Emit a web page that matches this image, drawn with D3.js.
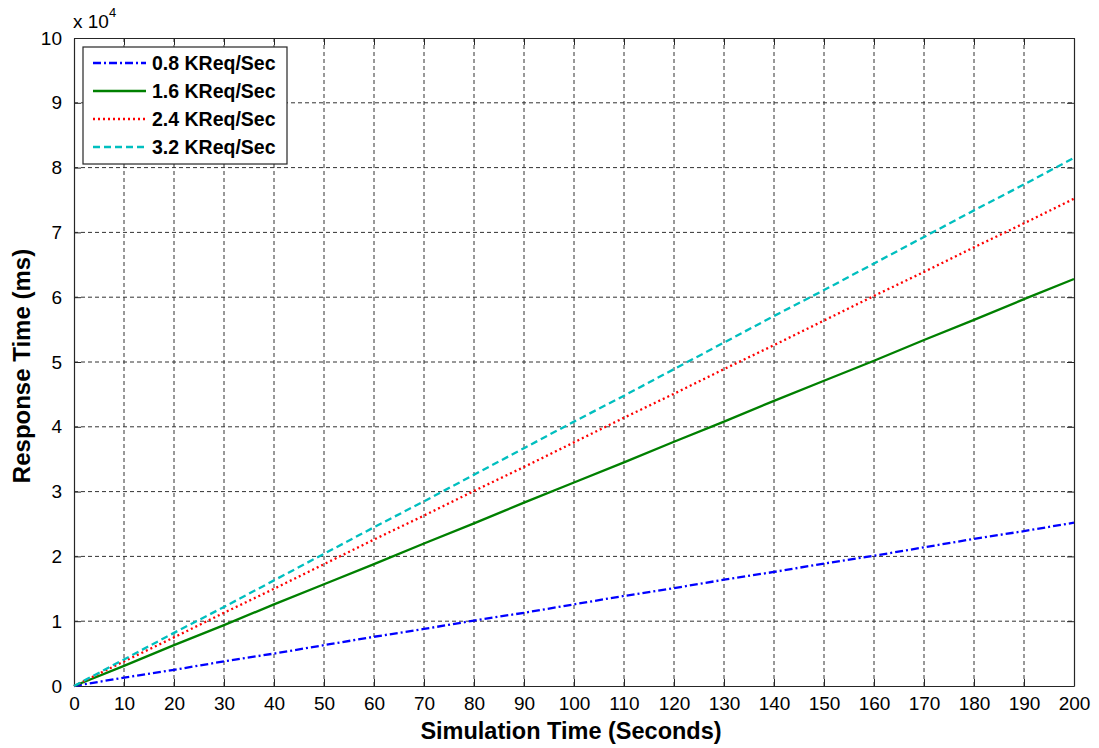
<!DOCTYPE html>
<html>
<head>
<meta charset="utf-8">
<script src="https://cdn.jsdelivr.net/npm/d3@7"></script>
<style>
  body { margin: 0; background: #fff; }
  text { font-family: "Liberation Sans", Arial, sans-serif; }
</style>
</head>
<body>
<div id="chart"></div>
<script>
// data (response time in units of 10^4 ms)
var times = [0,10,20,30,40,50,60,70,80,90,100,110,120,130,140,150,160,170,180,190,200];
var seriesNames = ["0.8 KReq/Sec", "1.6 KReq/Sec", "2.4 KReq/Sec", "3.2 KReq/Sec"];
var s08 = [0,0.13,0.25,0.38,0.50,0.63,0.76,0.88,1.01,1.13,1.26,1.39,1.51,1.64,1.76,1.89,2.01,2.14,2.27,2.39,2.52];
var s16 = [0,0.31,0.63,0.94,1.26,1.57,1.88,2.20,2.51,2.83,3.14,3.45,3.77,4.08,4.40,4.71,5.02,5.34,5.65,5.97,6.28];
var s24 = [0,0.38,0.75,1.13,1.50,1.88,2.26,2.63,3.01,3.38,3.76,4.14,4.51,4.89,5.26,5.64,6.02,6.39,6.77,7.14,7.52];
var s32 = [0,0.41,0.82,1.22,1.63,2.04,2.45,2.85,3.26,3.67,4.08,4.48,4.89,5.30,5.71,6.11,6.52,6.93,7.34,7.74,8.15];
var xTicks = d3.range(0, 201, 10);
var yTicks = d3.range(0, 11, 1);

var colors = ["#0000ff", "#008000", "#ff0000", "#00bfbf"];
var dashes = ["8,3,2,3", null, "2,3", "7,4"];
var allSeries = [s08, s16, s24, s32];

var margin = {top: 38, right: 25, bottom: 62, left: 74},
    width = 1099 - margin.left - margin.right,
    height = 748 - margin.top - margin.bottom;

var svg = d3.select("#chart")
    .append("svg")
    .attr("width", 1099)
    .attr("height", 748)
    .append("g")
    .attr("transform", "translate(" + margin.left + "," + margin.top + ")");

var x = d3.scaleLinear().domain([0, 200]).range([0, width]);
var y = d3.scaleLinear().domain([0, 10]).range([height, 0]);

// grid
svg.append("g").selectAll("line").data(xTicks.slice(1, -1)).enter().append("line")
    .attr("x1", d => x(d)).attr("x2", d => x(d))
    .attr("y1", 0).attr("y2", height)
    .style("stroke", "#333").style("stroke-dasharray", "4,3").style("stroke-width", 1);
svg.append("g").selectAll("line").data(yTicks.slice(1, -1)).enter().append("line")
    .attr("x1", 0).attr("x2", width)
    .attr("y1", d => y(d)).attr("y2", d => y(d))
    .style("stroke", "#333").style("stroke-dasharray", "4,3").style("stroke-width", 1);

// axes (ticks inward, MATLAB style box)
function styleAxis(g) {
    g.selectAll("path").style("stroke", "#262626").style("stroke-width", 1.2);
    g.selectAll("line").style("stroke", "#262626");
    g.selectAll("text").style("font-size", "19px").style("fill", "#000");
}
svg.append("g").attr("transform", "translate(0," + height + ")")
    .call(d3.axisBottom(x).tickValues(xTicks).tickSizeInner(-7).tickSizeOuter(0).tickPadding(11))
    .call(styleAxis);
svg.append("g")
    .call(d3.axisTop(x).tickValues(xTicks).tickSizeInner(-7).tickSizeOuter(0).tickFormat(""))
    .call(styleAxis);
svg.append("g")
    .call(d3.axisLeft(y).tickValues(yTicks).tickSizeInner(-7).tickSizeOuter(0).tickPadding(12))
    .call(styleAxis);
svg.append("g").attr("transform", "translate(" + width + ",0)")
    .call(d3.axisRight(y).tickValues(yTicks).tickSizeInner(-7).tickSizeOuter(0).tickFormat(""))
    .call(styleAxis);

// lines
var line = d3.line().x((d, i) => x(times[i])).y(d => y(d));
allSeries.forEach(function (s, i) {
    svg.append("path")
        .datum(s)
        .attr("d", line)
        .style("fill", "none")
        .style("stroke", colors[i])
        .style("stroke-width", 2.3)
        .style("stroke-dasharray", dashes[i]);
});

// exponent label
var ex = svg.append("text").attr("x", -1).attr("y", -10).style("font-size", "19px");
ex.append("tspan").text("x 10");
ex.append("tspan").attr("dy", -11).style("font-size", "13px").text("4");

// legend
var lg = svg.append("g").attr("transform", "translate(9,9)");
lg.append("rect").attr("width", 204).attr("height", 117)
    .style("fill", "#fff").style("stroke", "#262626").style("stroke-width", 1.2);
seriesNames.forEach(function (n, i) {
    var yy = 16 + i * 28;
    lg.append("line").attr("x1", 10).attr("x2", 63).attr("y1", yy).attr("y2", yy)
        .style("stroke", colors[i]).style("stroke-width", 2.3)
        .style("stroke-dasharray", dashes[i]);
    lg.append("text").attr("x", 69).attr("y", yy + 7)
        .style("font-size", "19.5px").style("font-weight", "bold").text(n);
});

// axis titles
svg.append("text")
    .attr("x", width / 2 - 3).attr("y", height + 53)
    .style("text-anchor", "middle").style("font-size", "23.5px").style("font-weight", "bold")
    .text("Simulation Time (Seconds)");
svg.append("text")
    .attr("transform", "translate(-44," + (height / 2 + 4) + ") rotate(-90)")
    .style("text-anchor", "middle").style("font-size", "24px").style("font-weight", "bold")
    .text("Response Time (ms)");
</script>
</body>
</html>
